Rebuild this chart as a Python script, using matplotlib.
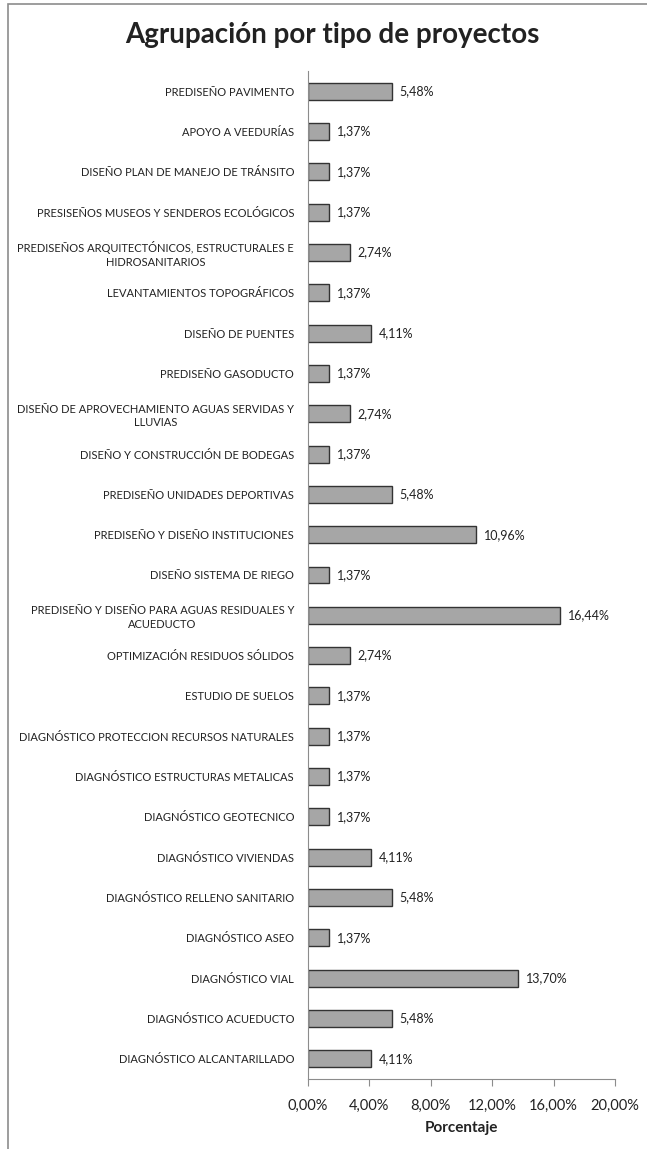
import matplotlib
matplotlib.use("Agg")
import matplotlib.pyplot as plt
from matplotlib.patches import Rectangle
from matplotlib.ticker import FuncFormatter

categories = [
    "PREDISEÑO PAVIMENTO",
    "APOYO A VEEDURÍAS",
    "DISEÑO PLAN DE MANEJO DE TRÁNSITO",
    "PRESISEÑOS MUSEOS Y SENDEROS ECOLÓGICOS",
    "PREDISEÑOS ARQUITECTÓNICOS, ESTRUCTURALES E\nHIDROSANITARIOS",
    "LEVANTAMIENTOS TOPOGRÁFICOS",
    "DISEÑO DE PUENTES",
    "PREDISEÑO GASODUCTO",
    "DISEÑO DE APROVECHAMIENTO AGUAS SERVIDAS Y\nLLUVIAS",
    "DISEÑO Y CONSTRUCCIÓN DE BODEGAS",
    "PREDISEÑO UNIDADES DEPORTIVAS",
    "PREDISEÑO Y DISEÑO INSTITUCIONES",
    "DISEÑO SISTEMA DE RIEGO",
    "PREDISEÑO Y DISEÑO PARA AGUAS RESIDUALES Y\nACUEDUCTO",
    "OPTIMIZACIÓN RESIDUOS SÓLIDOS",
    "ESTUDIO DE SUELOS",
    "DIAGNÓSTICO PROTECCION RECURSOS NATURALES",
    "DIAGNÓSTICO ESTRUCTURAS METALICAS",
    "DIAGNÓSTICO GEOTECNICO",
    "DIAGNÓSTICO VIVIENDAS",
    "DIAGNÓSTICO RELLENO SANITARIO",
    "DIAGNÓSTICO ASEO",
    "DIAGNÓSTICO VIAL",
    "DIAGNÓSTICO ACUEDUCTO",
    "DIAGNÓSTICO ALCANTARILLADO",
]
percentages = [
    5.48, 1.37, 1.37, 1.37, 2.74, 1.37, 4.11, 1.37, 2.74, 1.37,
    5.48, 10.96, 1.37, 16.44, 2.74, 1.37, 1.37, 1.37, 1.37, 4.11,
    5.48, 1.37, 13.70, 5.48, 4.11,
]
x_ticks = [0, 4, 8, 12, 16, 20]

FONT = ["Lato", "DejaVu Sans"]
TEXT = "#222222"


def pct(v):
    return f"{v:.2f}%".replace(".", ",")


fig = plt.figure(figsize=(6.47, 11.49), dpi=100)
W, H = 647, 1149

# outer chart frame
fig.patches.append(Rectangle((8 / W, -0.01), 1.0, 1 - 4 / H + 0.01,
                             transform=fig.transFigure, fill=False,
                             edgecolor="#8c8c8c", linewidth=1.2))

ax = fig.add_axes([308 / W, 1 - 1079 / H, (615 - 308) / W, (1079 - 71) / H])

y = list(range(len(categories)))
ax.barh(y, percentages, height=0.42, color="#a6a6a6",
        edgecolor="#333333", linewidth=1.0)
for yi, v in zip(y, percentages):
    ax.text(v + 0.5, yi, pct(v), va="center", ha="left",
            fontsize=9, color=TEXT, family=FONT)

ax.set_ylim(len(categories) - 0.5, -0.5)
ax.set_xlim(0, 20)
ax.set_yticks(y)
ax.set_yticklabels(categories, fontsize=8.0, color=TEXT, family=FONT,
                   multialignment="center", linespacing=1.25)
ax.set_xticks(x_ticks)
ax.xaxis.set_major_formatter(FuncFormatter(lambda v, _: pct(v)))
for lab in ax.get_xticklabels():
    lab.set_family(FONT)
    lab.set_fontsize(10.5)
    lab.set_color(TEXT)

ax.tick_params(axis="y", length=0, pad=10)
ax.tick_params(axis="x", length=5, direction="out", color="#8c8c8c", pad=9)
for s in ["top", "right"]:
    ax.spines[s].set_visible(False)
ax.spines["left"].set_color("#8c8c8c")
ax.spines["bottom"].set_color("#8c8c8c")

ax.set_xlabel("Porcentaje", fontsize=11, fontweight="bold",
              color=TEXT, family=FONT, labelpad=6)

fig.text(332 / W, 1 - 35 / H, "Agrupación por tipo de proyectos",
         ha="center", va="center", fontsize=20, fontweight="bold",
         color=TEXT, family=FONT)

fig.savefig("out.png", dpi=100)
